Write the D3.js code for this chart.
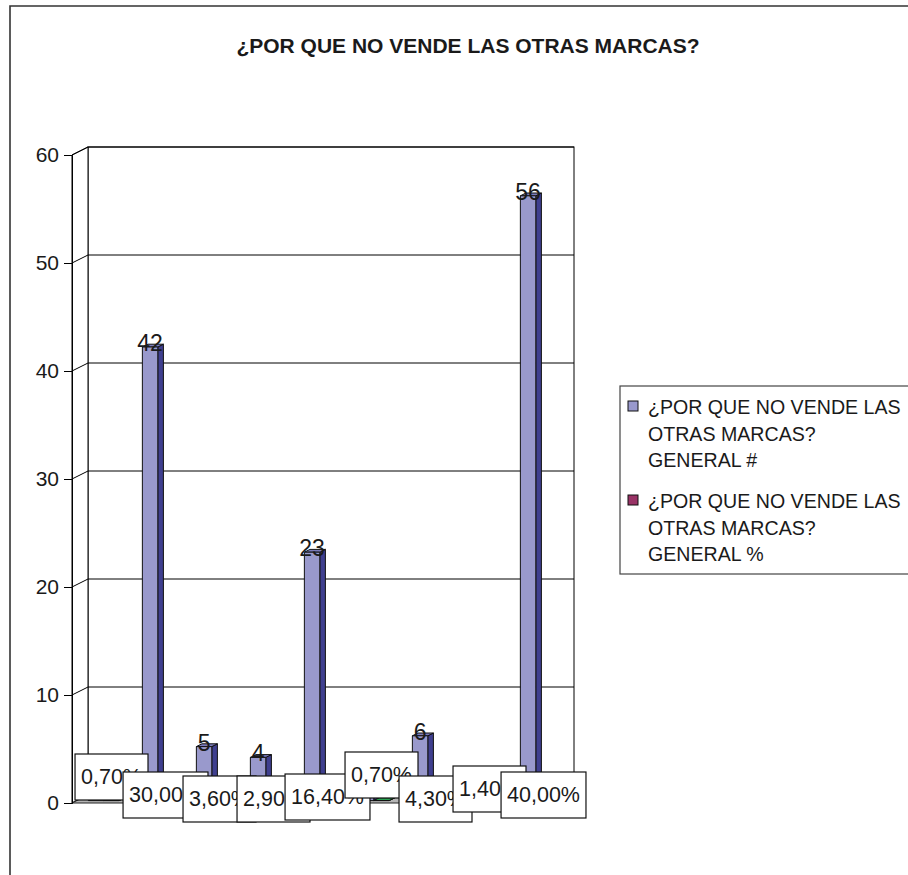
<!DOCTYPE html>
<html><head><meta charset="utf-8">
<script src="https://cdn.jsdelivr.net/npm/d3@7"></script>
<style>
body{margin:0;background:#fff}
text{font-family:Arial,"Liberation Sans",sans-serif;fill:#1a1a1a}
</style>
</head><body>
<svg id="c" width="908" height="875"></svg>
<script>
// ---- data ----
const title = "¿POR QUE NO VENDE LAS OTRAS MARCAS?";
const categories = ["1","2","3","4","5","6","7","8","9"];
const seriesKeys = ["GENERAL #","GENERAL %"];
const counts = [1, 42, 5, 4, 23, 1, 6, 2, 56];
const percents = [0.7, 30.0, 3.6, 2.9, 16.4, 0.7, 4.3, 1.4, 40.0];
const yTicks = [0, 10, 20, 30, 40, 50, 60];
const legendLines = [
  ["¿POR QUE NO VENDE LAS", "OTRAS MARCAS?", "GENERAL #"],
  ["¿POR QUE NO VENDE LAS", "OTRAS MARCAS?", "GENERAL %"]
];
// layout nudges for the percent label boxes (vertical, px)
const pctLabelNudge = [-20, -2, 2, 2, 0, -22, 2, -8, -2];

// ---- styles ----
const colors = {
  s1: {front:"#9999cc", side:"#3f3f8f", top:"#7b7bbb"},
  s2: {front:"#993366", side:"#5c1f3d", top:"#7a2952"},
  s2alt: {front:"#33cc66", side:"#1f7a3d", top:"#29a352"}
};

const svg = d3.select("#c");
const X0 = 72, X1 = 558;          // front floor x-range
const DX = 16, DY = 8;            // wall depth offset
const y = d3.scaleLinear().domain([0, 60]).range([803, 155]);
const x = d3.scaleBand().domain(categories).range([X0, X1]).paddingInner(0).paddingOuter(0);
const xs = d3.scaleBand().domain(seriesKeys).range([0, x.bandwidth()]).paddingInner(0).paddingOuter(0.75);

// outer chart border
svg.append("path").attr("d","M10,875 L10,6 L908,6").attr("fill","none").attr("stroke","#333").attr("stroke-width",1.6);

// title
svg.append("text").attr("x", 468).attr("y", 53).attr("text-anchor","middle")
  .attr("font-size", 21).attr("font-weight","bold").text(title);

// walls
const g = svg.append("g");
g.append("rect").attr("x", X0+DX).attr("y", y(60)-DY).attr("width", X1-X0).attr("height", y(0)-y(60))
  .attr("fill","#fff").attr("stroke","#000").attr("stroke-width",1);
g.append("path").attr("d", `M${X0},${y(0)} L${X0},${y(60)} L${X0+DX},${y(60)-DY} L${X0+DX},${y(0)-DY} Z`)
  .attr("fill","#fff").attr("stroke","#000").attr("stroke-width",1);
yTicks.forEach(v => {
  g.append("line").attr("x1", X0+DX).attr("x2", X1+DX).attr("y1", y(v)-DY).attr("y2", y(v)-DY)
    .attr("stroke","#000").attr("stroke-width",1);
  g.append("line").attr("x1", X0).attr("x2", X0+DX).attr("y1", y(v)).attr("y2", y(v)-DY)
    .attr("stroke","#000").attr("stroke-width",1);
});
g.append("path").attr("d", `M${X0},${y(0)} L${X1},${y(0)} L${X1+DX},${y(0)-DY} L${X0+DX},${y(0)-DY} Z`)
  .attr("fill","#b4b4b4").attr("stroke","#222").attr("stroke-width",1);

// y axis (front)
const axis = d3.axisLeft(y).tickValues(yTicks).tickSize(8).tickPadding(5).tickFormat(d3.format("d"));
const ag = svg.append("g").attr("transform", `translate(${X0},0)`).call(axis);
ag.select(".domain").attr("stroke","#000");
ag.selectAll(".tick line").attr("stroke","#000");
ag.selectAll(".tick text").attr("font-size", 21).attr("fill","#1a1a1a")
  .attr("font-family","Arial, 'Liberation Sans', sans-serif");

// bars
const T0 = 0.3, T1 = 0.65;
function drawBar(cat, key, val, col) {
  const bx = x(cat) + xs(key) + T0*DX;
  const w = xs.bandwidth();
  const yb = y(0) - T0*DY, yt = y(val) - T0*DY;
  const ddx = (T1-T0)*DX, ddy = (T1-T0)*DY;
  const bg = svg.append("g").attr("stroke","#111").attr("stroke-width",1).attr("stroke-linejoin","round");
  bg.append("path").attr("d", `M${bx+w},${yb} L${bx+w+ddx},${yb-ddy} L${bx+w+ddx},${yt-ddy} L${bx+w},${yt} Z`).attr("fill", col.side);
  bg.append("path").attr("d", `M${bx},${yt} L${bx+w},${yt} L${bx+w+ddx},${yt-ddy} L${bx+ddx},${yt-ddy} Z`).attr("fill", col.top);
  bg.append("rect").attr("x", bx).attr("y", yt).attr("width", w).attr("height", Math.max(0.01, yb-yt)).attr("fill", col.front);
  return {cx: bx + w/2, top: yt};
}
const s1pos = [], s2pos = [];
categories.forEach((c, i) => {
  s1pos.push(drawBar(c, seriesKeys[0], counts[i], colors.s1));
  s2pos.push(drawBar(c, seriesKeys[1], percents[i]/100, i === 5 ? colors.s2alt : colors.s2));
});

// series 1 labels (plain)
categories.forEach((c, i) => {
  svg.append("text").attr("x", s1pos[i].cx).attr("y", s1pos[i].top + 4)
    .attr("text-anchor","middle").attr("font-size", 23).text(counts[i]);
});

// series 2 labels (boxed)
const fmt = v => d3.format(".2f")(v).replace(".", ",") + "%";
categories.forEach((c, i) => {
  const cy = 797 + pctLabelNudge[i];
  const lg = svg.append("g");
  const r = lg.append("rect").attr("fill","#fff").attr("stroke","#111").attr("stroke-width",1.2);
  const t = lg.append("text").attr("x", s2pos[i].cx).attr("y", cy + 7).attr("text-anchor","middle")
    .attr("font-size", 21.5).text(fmt(percents[i]));
  const bw = t.node().getComputedTextLength() + 12;
  r.attr("x", s2pos[i].cx - bw/2).attr("y", cy - 23).attr("width", bw).attr("height", 46);
});

// legend
const lg = svg.append("g");
lg.append("rect").attr("x", 620).attr("y", 386).attr("width", 300).attr("height", 188)
  .attr("fill","#fff").attr("stroke","#444").attr("stroke-width",1.2);
const legCols = [colors.s1.front, colors.s2.front];
legendLines.forEach((lines, k) => {
  const top = 401 + k*94;
  lg.append("rect").attr("x", 628).attr("y", top).attr("width", 10).attr("height", 10)
    .attr("fill", legCols[k]).attr("stroke","#111").attr("stroke-width",1);
  lines.forEach((ln, j) => {
    lg.append("text").attr("x", 648).attr("y", top + 13 + j*26.5).attr("font-size", 19.6).text(ln);
  });
});
</script>
</body></html>
